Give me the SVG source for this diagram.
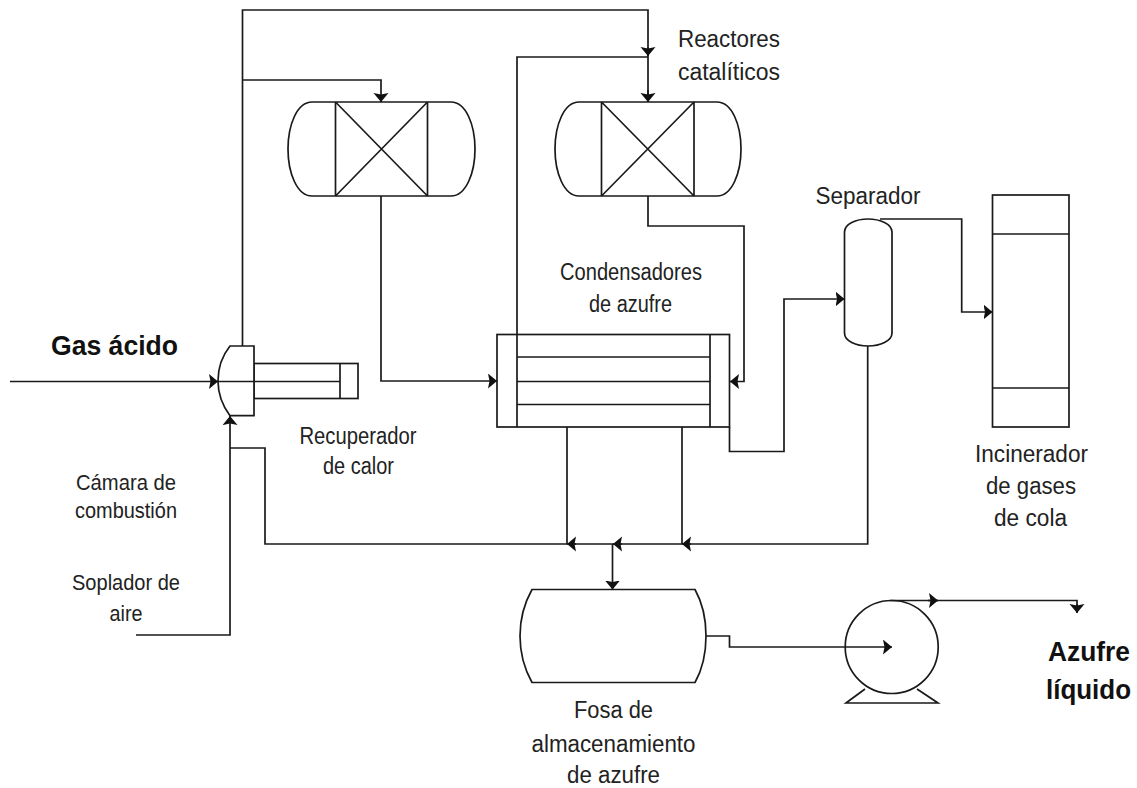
<svg xmlns="http://www.w3.org/2000/svg" width="1137" height="788" viewBox="0 0 1137 788">
<style>
.s{fill:none;stroke:#1a1a1a;stroke-width:1.7}
.w{fill:#fff;stroke:#1a1a1a;stroke-width:1.7}
.c{fill:none;stroke:#1a1a1a;stroke-width:1.7}
text{font-family:"Liberation Sans",Arial,sans-serif;fill:#222;font-size:23px;text-anchor:middle}
.n{font-size:22px}
.b{font-weight:bold;fill:#111;font-size:27px}
</style>
<defs>
<marker id="a" markerUnits="userSpaceOnUse" markerWidth="10" markerHeight="16" refX="9" refY="7.500" orient="auto"><path d="M0 0L9 7.500L0 15L1.500 7.500Z" fill="#111"/></marker>
</defs>
<rect width="1137" height="788" fill="#fff"/>
<g id="r1"><path class="w" d="M312 102H451C466 102 475 125 475 149C475 173 466 196 451 196H312C297 196 288 173 288 149C288 125 297 102 312 102Z"/><path class="s" d="M335.500 102V196M427.500 102V196M335.500 102L427.500 196M427.500 102L335.500 196"/></g>
<g id="r2"><path class="w" d="M579 102H717C732 102 741 125 741 149C741 173 732 196 717 196H579C564 196 555 173 555 149C555 125 564 102 579 102Z"/><path class="s" d="M601.500 102V196M694 102V196M601.500 102L694 196M694 102L601.500 196"/></g>
<g id="cond"><rect class="w" x="497" y="334.500" width="232.500" height="92.500"/><path class="s" d="M517 334.500V427M710 334.500V427M517 357H710M517 381.500H710M517 404.500H710"/></g>
<g id="sep"><path class="w" d="M844.500 232C844.500 224 856 219 868 219C880 219 892 224 892 232V333C892 341 880 346 868 346C856 346 844.500 341 844.500 333Z"/></g>
<g id="inc"><rect class="w" x="992.500" y="195" width="76.500" height="232"/><path class="s" d="M992.500 234H1069M992.500 388H1069"/></g>
<g id="hx"><rect class="w" x="254" y="363.500" width="104" height="35"/><path class="s" d="M340 363.500V398.500"/></g>
<g id="cam"><path class="w" d="M230 346H254V415.700H230C222 405 218 393 218 381C218 369 222 356 230 346Z"/></g>
<g id="tank"><path class="w" d="M532 589.500H695C702 602 706 619 706 636C706 653 702 670 695 682.500H532C525 670 520 653 520 636C520 619 525 602 532 589.500Z"/></g>
<g id="pump"><circle class="w" cx="891.700" cy="647" r="46.500"/><path class="s" d="M865 689L846 703H938L917 689"/></g>
<g id="connectors">
<path class="c" d="M242.500 346V10H648V102"/>
<path class="c" d="M648 47V56" marker-end="url(#a)"/>
<path class="c" marker-end="url(#a)" d="M242.500 80H381V102"/>
<path class="c" marker-end="url(#a)" d="M648 90V102"/>
<path class="c" d="M517 334V57H648"/>
<path class="c" marker-end="url(#a)" d="M381 196V381H497"/>
<path class="c" marker-end="url(#a)" d="M648 196V226H744V381.500H730"/>
<path class="c" marker-end="url(#a)" d="M729.500 427V451.500H784V299H844.500"/>
<path class="c" marker-end="url(#a)" d="M880 219H961.700V312H992.500"/>
<path class="c" marker-end="url(#a)" d="M10 381.500H218"/>
<path class="c" d="M218 381.500H340"/>
<path class="c" marker-end="url(#a)" d="M136 635H230V416"/>
<path class="c" d="M230 448H265V544H867.700V346"/>
<path class="c" d="M567 427V544M682 427V544"/>
<path class="c" marker-end="url(#a)" d="M576 544H567"/>
<path class="c" marker-end="url(#a)" d="M622 544H613"/>
<path class="c" marker-end="url(#a)" d="M691 544H682"/>
<path class="c" marker-end="url(#a)" d="M612.500 544V589.500"/>
<path class="c" marker-end="url(#a)" d="M706 636H729.500V647H892"/>
<path class="c" d="M890 600.500H1077V612"/>
<path class="c" marker-end="url(#a)" d="M928 600.500H938"/>
<path class="c" marker-end="url(#a)" d="M1077 604V613"/>
</g>
<text class="b" x="114.500" y="355" textLength="127" lengthAdjust="spacingAndGlyphs">Gas ácido</text>
<text x="729" y="47" textLength="102" lengthAdjust="spacingAndGlyphs">Reactores</text>
<text x="729" y="80" textLength="102" lengthAdjust="spacingAndGlyphs">catalíticos</text>
<text x="631" y="280" textLength="142" lengthAdjust="spacingAndGlyphs">Condensadores</text>
<text x="630.500" y="311.500" textLength="83" lengthAdjust="spacingAndGlyphs">de azufre</text>
<text x="868" y="204" textLength="105" lengthAdjust="spacingAndGlyphs">Separador</text>
<text x="358" y="444" textLength="117" lengthAdjust="spacingAndGlyphs">Recuperador</text>
<text x="358.500" y="473.500" textLength="71" lengthAdjust="spacingAndGlyphs">de calor</text>
<text class="n" x="126" y="489.500" textLength="100" lengthAdjust="spacingAndGlyphs">Cámara de</text>
<text class="n" x="126" y="518" textLength="102" lengthAdjust="spacingAndGlyphs">combustión</text>
<text class="n" x="126" y="590" textLength="108" lengthAdjust="spacingAndGlyphs">Soplador de</text>
<text class="n" x="126" y="621" textLength="33" lengthAdjust="spacingAndGlyphs">aire</text>
<text x="1031.500" y="462" textLength="113" lengthAdjust="spacingAndGlyphs">Incinerador</text>
<text x="1031" y="493.500" textLength="90" lengthAdjust="spacingAndGlyphs">de gases</text>
<text x="1030.500" y="526" textLength="73" lengthAdjust="spacingAndGlyphs">de cola</text>
<text x="613.500" y="718" textLength="79" lengthAdjust="spacingAndGlyphs">Fosa de</text>
<text x="613.500" y="752" textLength="164" lengthAdjust="spacingAndGlyphs">almacenamiento</text>
<text x="613.500" y="783" textLength="93" lengthAdjust="spacingAndGlyphs">de azufre</text>
<text class="b" x="1089" y="661" textLength="82" lengthAdjust="spacingAndGlyphs">Azufre</text>
<text class="b" x="1088.500" y="698.500" textLength="85" lengthAdjust="spacingAndGlyphs">líquido</text>
</svg>
